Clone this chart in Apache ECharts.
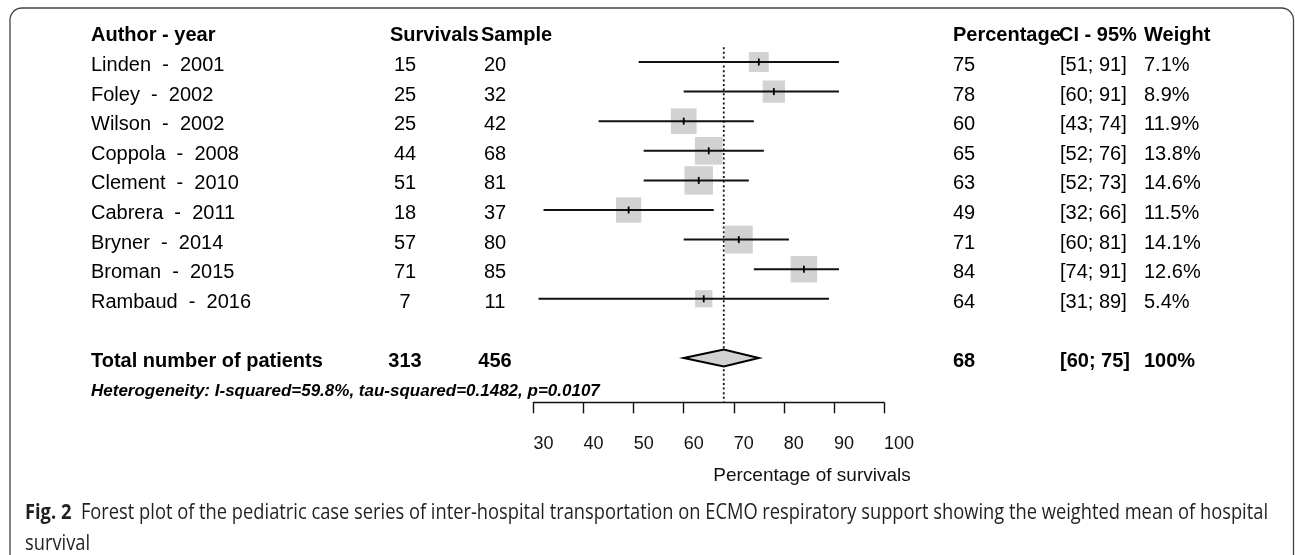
<!DOCTYPE html>
<html>
<head>
<meta charset="utf-8">
<title>Forest plot - pediatric ECMO transport</title>
<script src="https://cdn.jsdelivr.net/npm/echarts@6/dist/echarts.min.js"></script>
<style>
  html, body { margin: 0; padding: 0; background: #fff; }
  #chart { width: 1295px; height: 555px; }
</style>
</head>
<body>
<div id="chart"></div>
<script>
// study rows
const authors = [
  'Linden  -  2001', 'Foley  -  2002', 'Wilson  -  2002', 'Coppola  -  2008',
  'Clement  -  2010', 'Cabrera  -  2011', 'Bryner  -  2014', 'Broman  -  2015',
  'Rambaud  -  2016'
]
const survivals = [15, 25, 25, 44, 51, 18, 57, 71, 7]
const samples = [20, 32, 42, 68, 81, 37, 80, 85, 11]
const percentages = [75, 78, 60, 65, 63, 49, 71, 84, 64]
const ciLow = [51, 60, 43, 52, 52, 32, 60, 74, 31]
const ciHigh = [91, 91, 74, 76, 73, 66, 81, 91, 89]
const weights = [7.1, 8.9, 11.9, 13.8, 14.6, 11.5, 14.1, 12.6, 5.4]

// pooled estimate
const totalSurvivals = 313
const totalSample = 456
const pooled = 68
const pooledLow = 60
const pooledHigh = 75
const heterogeneity = 'Heterogeneity: I-squared=59.8%, tau-squared=0.1482, p=0.0107'

const headers = ['Author - year', 'Survivals', 'Sample', 'Percentage', 'CI - 95%', 'Weight']
const xTicks = [30, 40, 50, 60, 70, 80, 90, 100]
const xTitle = 'Percentage of survivals'
const captionBold = 'Fig. 2'
const captionLine1 = 'Forest plot of the pediatric case series of inter-hospital transportation on ECMO respiratory support showing the weighted mean of hospital'
const captionLine2 = 'survival'

// layout (pixels)
const FONT = '"Liberation Sans", Arial, sans-serif'
const headerCols = [
  { x: 91, align: 'left' }, { x: 390, align: 'left' }, { x: 481, align: 'left' },
  { x: 953, align: 'left' }, { x: 1059, align: 'left' }, { x: 1144, align: 'left' },
]
const bodyCols = [
  { x: 91, align: 'left' }, { x: 405, align: 'center' }, { x: 495, align: 'center' },
  { x: 953, align: 'left' }, { x: 1060, align: 'left' }, { x: 1144, align: 'left' },
]
const TEXT_DY = 3.5
const TOTAL_ROW = 11
const HET_ROW = 12

const tableRows = [{ row: 0, cells: headers, cols: headerCols, bold: true }]
authors.forEach((a, i) => {
  tableRows.push({
    row: i + 1,
    cols: bodyCols,
    bold: false,
    cells: [a, String(survivals[i]), String(samples[i]), String(percentages[i]),
      `[${ciLow[i]}; ${ciHigh[i]}]`, `${weights[i]}%`],
  })
})
tableRows.push({
  row: TOTAL_ROW, cols: bodyCols, bold: true,
  cells: ['Total number of patients', String(totalSurvivals), String(totalSample),
    String(pooled), `[${pooledLow}; ${pooledHigh}]`, '100%'],
})

const studies = authors.map((a, i) => [percentages[i], i + 1, ciLow[i], ciHigh[i], weights[i]])

// caption is condensed like the journal face: squeeze Open Sans to the line width
function captionScale() {
  const ctx = document.createElement('canvas').getContext('2d')
  ctx.font = 'bold 21px "Open Sans"'
  let w = ctx.measureText(captionBold + '  ').width
  ctx.font = '21px "Open Sans"'
  w += ctx.measureText(captionLine1).width
  return (1268 - 25) / w
}
const capScale = captionScale()

const chart = echarts.init(document.getElementById('chart'))

chart.setOption({
  animation: false,
  grid: { left: 533.5, width: 350.5, top: 17.6, height: 384.8 },
  xAxis: {
    type: 'value', min: 30, max: 100, interval: 10, position: 'bottom',
    splitLine: { show: false },
    axisLine: { onZero: false, lineStyle: { color: '#111', width: 1.4 } },
    axisTick: { length: 11, lineStyle: { color: '#111', width: 1.4 } },
    axisLabel: {
      margin: 33, align: 'left', color: '#111', fontSize: 18, fontFamily: FONT,
      formatter: (v) => (xTicks.includes(v) ? String(v) : ''),
    },
  },
  yAxis: { type: 'value', min: -0.5, max: 12.5, inverse: true, show: false },
  graphic: [
    {
      type: 'rect', silent: true,
      shape: { x: 10, y: 8, width: 1283.5, height: 570, r: 12 },
      style: { fill: 'none', stroke: '#444', lineWidth: 1.3 },
    },
    {
      type: 'text', x: 812, y: 476,
      style: { text: xTitle, font: `19px ${FONT}`, fill: '#111', align: 'center', verticalAlign: 'middle' },
    },
    {
      type: 'text', x: 25, y: 513, scaleX: capScale,
      style: {
        text: `{b|${captionBold}}  ${captionLine1}`,
        font: '21px "Open Sans"', fill: '#231f20', verticalAlign: 'middle',
        rich: { b: { fontWeight: 'bold', fontSize: 21, fontFamily: 'Open Sans', fill: '#231f20' } },
      },
    },
    {
      type: 'text', x: 25, y: 544, scaleX: capScale,
      style: { text: captionLine2, font: '21px "Open Sans"', fill: '#231f20', verticalAlign: 'middle' },
    },
  ],
  series: [
    {
      // pooled estimate reference line
      type: 'line', silent: true, symbol: 'none',
      data: [[pooled, 0.5], [pooled, 12.5]],
      lineStyle: { color: '#111', width: 1.8, type: [2, 2.6] },
      z: 1,
    },
    {
      // CI whiskers, weighted squares and point ticks
      type: 'custom', silent: true,
      data: studies,
      renderItem: (params, api) => {
        const est = api.coord([api.value(0), api.value(1)])
        const lo = api.coord([api.value(2), api.value(1)])
        const hi = api.coord([api.value(3), api.value(1)])
        const side = 7.45 * Math.sqrt(api.value(4))
        return {
          type: 'group',
          children: [
            {
              type: 'rect', z2: 1,
              shape: { x: est[0] - side / 2, y: est[1] - side / 2, width: side, height: side },
              style: { fill: '#d2d2d2' },
            },
            {
              type: 'line', z2: 2,
              shape: { x1: lo[0], y1: lo[1], x2: hi[0], y2: hi[1] },
              style: { stroke: '#111', lineWidth: 2 },
            },
            {
              type: 'line', z2: 3,
              shape: { x1: est[0], y1: est[1] - 3.5, x2: est[0], y2: est[1] + 3.5 },
              style: { stroke: '#000', lineWidth: 1.8 },
            },
          ],
        }
      },
      z: 2,
    },
    {
      // pooled diamond
      type: 'custom', silent: true,
      data: [[pooled, TOTAL_ROW, pooledLow, pooledHigh]],
      renderItem: (params, api) => {
        const c = api.coord([api.value(0), api.value(1)])
        const lo = api.coord([api.value(2), api.value(1)])
        const hi = api.coord([api.value(3), api.value(1)])
        return {
          type: 'polygon',
          shape: { points: [[lo[0], c[1]], [c[0], c[1] - 8.5], [hi[0], c[1]], [c[0], c[1] + 8.5]] },
          style: { fill: '#d2d2d2', stroke: '#000', lineWidth: 2 },
        }
      },
      z: 3,
    },
    {
      // table text columns
      type: 'custom', silent: true, clip: false,
      data: tableRows.map((r) => [30, r.row]),
      renderItem: (params, api) => {
        const r = tableRows[params.dataIndex]
        const y = api.coord([api.value(0), api.value(1)])[1] + TEXT_DY
        return {
          type: 'group',
          children: r.cells.map((t, k) => ({
            type: 'text',
            x: r.cols[k].x, y: y,
            style: {
              text: t, fill: '#000', align: r.cols[k].align, verticalAlign: 'middle',
              font: `${r.bold ? 'bold ' : ''}20px ${FONT}`,
            },
          })),
        }
      },
      z: 4,
    },
    {
      // heterogeneity note
      type: 'custom', silent: true, clip: false,
      data: [[30, HET_ROW]],
      renderItem: (params, api) => {
        const y = api.coord([api.value(0), api.value(1)])[1] + TEXT_DY
        return {
          type: 'text', x: 91, y: y,
          style: {
            text: heterogeneity, fill: '#000', align: 'left', verticalAlign: 'middle',
            font: `italic bold 17px ${FONT}`,
          },
        }
      },
      z: 4,
    },
  ],
})
</script>
</body>
</html>
